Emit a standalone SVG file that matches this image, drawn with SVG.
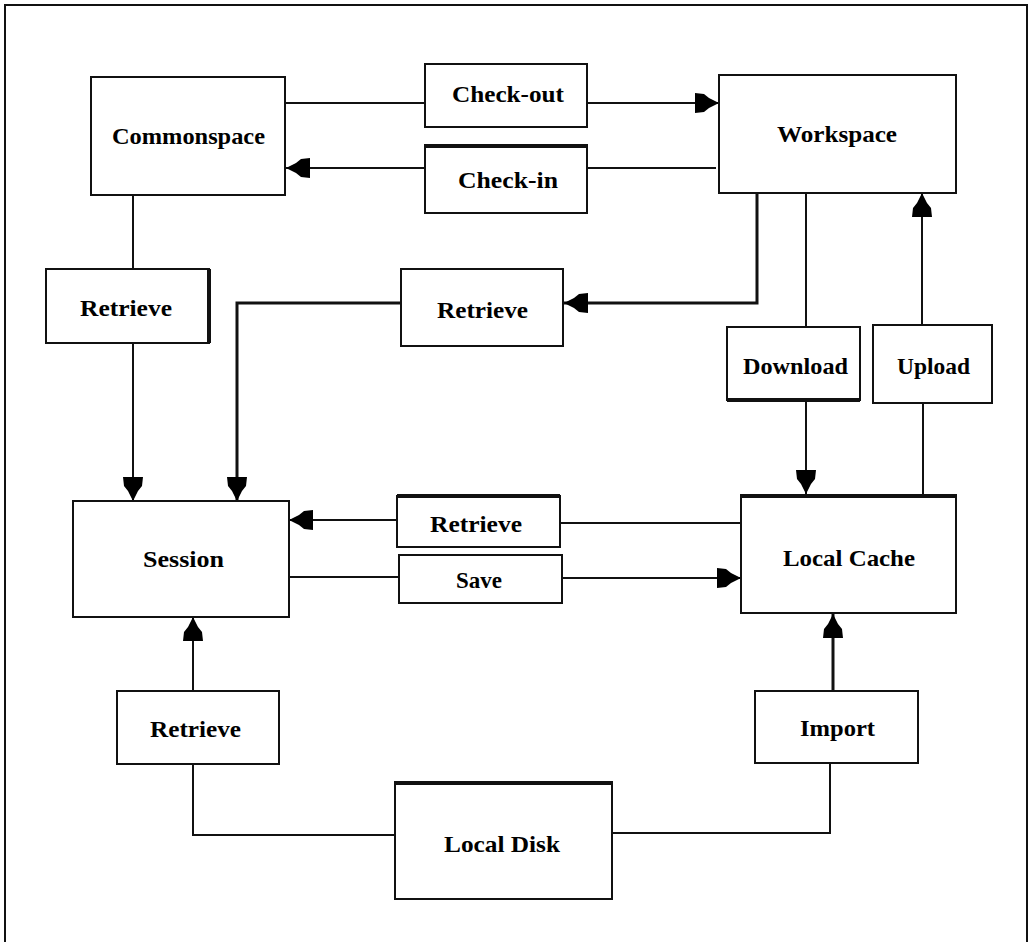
<svg xmlns="http://www.w3.org/2000/svg" width="1032" height="942" viewBox="0 0 1032 942">
<style>
.box{fill:#fff;stroke:#111;stroke-width:2}
.edge{stroke:#111;stroke-width:4}
.lbl{font-family:"Liberation Serif","Times New Roman",serif;font-weight:bold;font-size:24px;fill:#000;text-anchor:middle}
.ln{fill:none;stroke:#111;stroke-width:2}
.thk{fill:none;stroke:#111;stroke-width:3}
.arr{marker-end:url(#ah)}
</style>
<defs>
<marker id="ah" markerUnits="userSpaceOnUse" orient="auto" viewBox="-25 -11 26 22" refX="0" refY="0" markerWidth="26" markerHeight="22">
<path d="M0,0 L-10,-5 L-15,-9 L-24,-10 L-24,10 L-15,9 L-10,5 Z" fill="#000"/>
</marker>
</defs>
<rect x="0" y="0" width="1032" height="942" fill="#fff"/>
<rect x="5" y="5" width="1022" height="950" fill="none" stroke="#111" stroke-width="2"/>
<g id="connectors">
<path class="ln" d="M285,103 H425"/>
<path class="ln arr" d="M587,103 H719"/>
<path class="ln" d="M716,168 H587"/>
<path class="ln arr" d="M425,168 H286"/>
<path class="ln" d="M133,195 V269"/>
<path class="ln arr" d="M133,343 V501"/>
<path class="thk arr" d="M757,193 V303 H564"/>
<path class="thk arr" d="M401,303 H237 V501"/>
<path class="ln" d="M806,193 V327"/>
<path class="ln arr" d="M806,400 V494"/>
<path class="ln" d="M923,495 V403"/>
<path class="ln arr" d="M922,325 V193"/>
<path class="ln" d="M741,523 H560"/>
<path class="ln arr" d="M397,520 H289"/>
<path class="ln" d="M289,577 H399"/>
<path class="ln arr" d="M562,578 H741"/>
<path class="ln" d="M395,835 H193 V764"/>
<path class="ln arr" d="M193,691 V617"/>
<path class="ln" d="M612,833 H830 V763"/>
<path class="thk arr" d="M833,691 V614"/>
</g>
<g id="commonspace"><rect class="box" x="91" y="77" width="194" height="118"/><text class="lbl" x="188.5" y="144" textLength="153" lengthAdjust="spacingAndGlyphs">Commonspace</text></g>
<g id="checkout"><rect class="box" x="425" y="64" width="162" height="63"/><text class="lbl" x="508" y="102" textLength="112" lengthAdjust="spacingAndGlyphs">Check-out</text></g>
<g id="checkin"><rect class="box" x="425" y="145" width="162" height="68"/><line class="edge" x1="425" y1="146" x2="587" y2="146"/><text class="lbl" x="508" y="188" textLength="100" lengthAdjust="spacingAndGlyphs">Check-in</text></g>
<g id="workspace"><rect class="box" x="719" y="75" width="237" height="118"/><text class="lbl" x="837" y="142" textLength="120" lengthAdjust="spacingAndGlyphs">Workspace</text></g>
<g id="retrieve-common"><rect class="box" x="46" y="269" width="163" height="74"/><line class="edge" x1="209" y1="269" x2="209" y2="343"/><text class="lbl" x="126" y="316" textLength="92" lengthAdjust="spacingAndGlyphs">Retrieve</text></g>
<g id="retrieve-work"><rect class="box" x="401" y="269" width="162" height="77"/><text class="lbl" x="482.5" y="318" textLength="91" lengthAdjust="spacingAndGlyphs">Retrieve</text></g>
<g id="download"><rect class="box" x="727" y="327" width="133" height="73"/><line class="edge" x1="727" y1="400" x2="860" y2="400"/><text class="lbl" x="795.5" y="374" textLength="105" lengthAdjust="spacingAndGlyphs">Download</text></g>
<g id="upload"><rect class="box" x="873" y="325" width="119" height="78"/><text class="lbl" x="933.5" y="374" textLength="73" lengthAdjust="spacingAndGlyphs">Upload</text></g>
<g id="session"><rect class="box" x="73" y="501" width="216" height="116"/><text class="lbl" x="183.5" y="567" textLength="81" lengthAdjust="spacingAndGlyphs">Session</text></g>
<g id="retrieve-cache"><rect class="box" x="397" y="496" width="163" height="51"/><line class="edge" x1="397" y1="496" x2="560" y2="496"/><text class="lbl" x="476" y="532" textLength="92" lengthAdjust="spacingAndGlyphs">Retrieve</text></g>
<g id="save"><rect class="box" x="399" y="555" width="163" height="48"/><text class="lbl" x="479" y="588" textLength="46" lengthAdjust="spacingAndGlyphs">Save</text></g>
<g id="localcache"><rect class="box" x="741" y="495" width="215" height="118"/><line class="edge" x1="741" y1="496" x2="956" y2="496"/><text class="lbl" x="849" y="566" textLength="132" lengthAdjust="spacingAndGlyphs">Local Cache</text></g>
<g id="retrieve-disk"><rect class="box" x="117" y="691" width="162" height="73"/><text class="lbl" x="195.5" y="737" textLength="91" lengthAdjust="spacingAndGlyphs">Retrieve</text></g>
<g id="import"><rect class="box" x="755" y="691" width="163" height="72"/><text class="lbl" x="837.5" y="736" textLength="75" lengthAdjust="spacingAndGlyphs">Import</text></g>
<g id="localdisk"><rect class="box" x="395" y="782" width="217" height="117"/><line class="edge" x1="395" y1="783" x2="612" y2="783"/><text class="lbl" x="502" y="852" textLength="116" lengthAdjust="spacingAndGlyphs">Local Disk</text></g>
</svg>
